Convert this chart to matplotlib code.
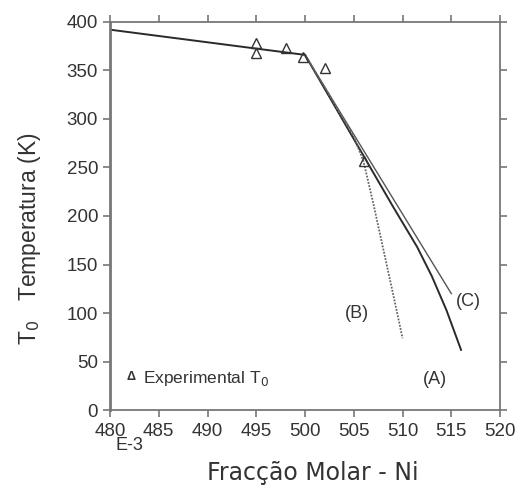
import numpy as np
import matplotlib.pyplot as plt

plt.rcParams['font.family'] = ['Liberation Sans', 'DejaVu Sans']

# experimental T0 points
exp_x = [495.0, 495.0, 498.0, 499.8, 502.0, 506.0]
exp_t = [378, 368, 373, 364, 352, 257]

# common branch (solid)
base_x = [480, 500]
base_t = [392, 366]

# curve (A)
a_x = [500, 503, 506, 509, 511.5, 513, 514.5, 516]
a_t = [366, 314, 262, 210, 168, 138, 103, 62]

# curve (B), dotted
b_x = [500, 502, 503.5, 505, 506, 507, 508, 509, 510]
b_t = [366, 333, 307, 282, 256, 213, 167, 121, 74]

# curve (C)
c_x = [500, 515]
c_t = [366, 120]

fig = plt.figure(figsize=(5.15, 4.87), dpi=100)
ax = fig.add_axes([0.2136, 0.158, 0.7574, 0.797])

lc = '#2a2a2a'
ax.plot(base_x, base_t, color=lc, lw=1.4)
ax.plot(a_x, a_t, color=lc, lw=1.4)
ax.plot(c_x, c_t, color='#555555', lw=1.0)
ax.plot(b_x, b_t, color='#666666', lw=1.3, ls=(0, (1, 0.8)))
ax.plot(exp_x, exp_t, ls='none', marker='^', ms=7, mfc='none', mec='#333333', mew=1.0)

tc = '#333333'
ax.text(505.3, 100, '(B)', fontsize=13, ha='center', va='center', color=tc)
ax.text(516.7, 112, '(C)', fontsize=13, ha='center', va='center', color=tc)
ax.text(513.3, 32, '(A)', fontsize=13, ha='center', va='center', color=tc)
ax.text(482.2, 34, '\u0394', fontsize=9, ha='center', va='center', color=tc,
        fontweight='bold')
ax.text(483.4, 33, 'Experimental T$_0$', fontsize=12.5, ha='left', va='center', color=tc)
ax.text(482, -37, 'E-3', fontsize=13, ha='center', va='center', color=tc)

ax.set_xlim(480, 520)
ax.set_ylim(0, 400)
ax.set_xticks(np.arange(480, 521, 5))
ax.set_yticks(np.arange(0, 401, 50))
ax.tick_params(axis='both', which='both', direction='out', length=5, width=1.2,
               color='#777777', labelsize=13.5, labelcolor=tc,
               top=True, right=True, labeltop=False, labelright=False)
ax.tick_params(axis='x', pad=4)
for s in ax.spines.values():
    s.set_color('#777777')
    s.set_linewidth(1.3)
ax.spines['left'].set_linewidth(2.0)

fig.text(0.608, 0.029, 'Fracção Molar - Ni', fontsize=17, color=tc,
         ha='center', va='center', family='DejaVu Sans')
fig.text(0.058, 0.51, 'T$_0$   Temperatura (K)', rotation=90, fontsize=16.5,
         color=tc, ha='center', va='center')

fig.savefig('out.png', dpi=100)
